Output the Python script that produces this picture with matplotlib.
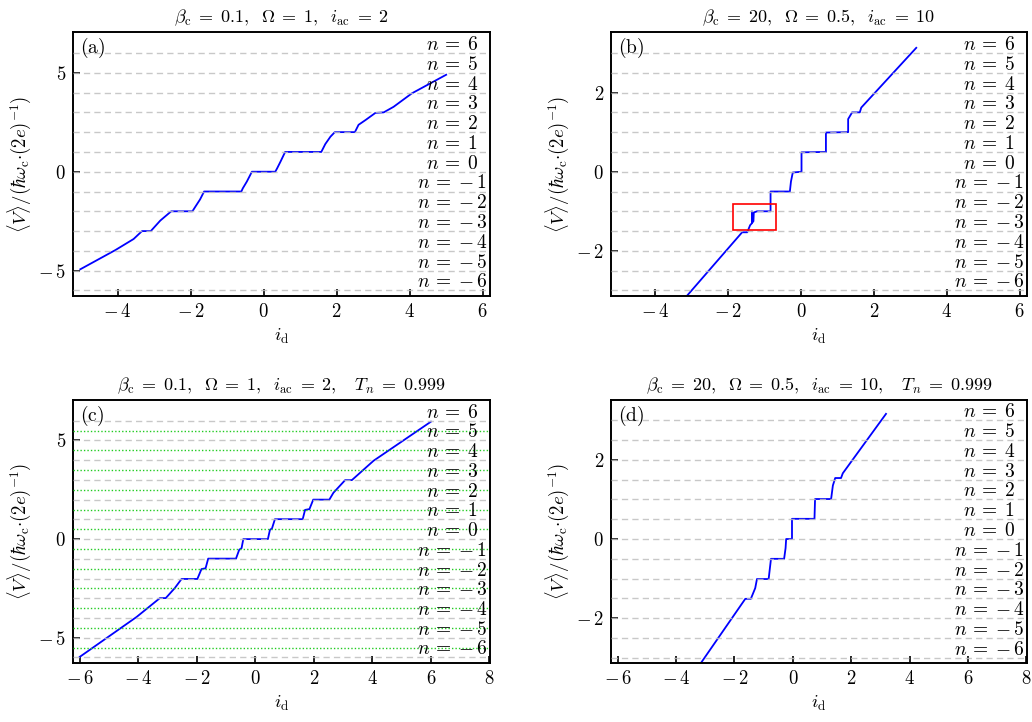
import matplotlib
matplotlib.use("Agg")
import matplotlib.pyplot as plt
from matplotlib.patches import Rectangle
import numpy as np

plt.rcParams['mathtext.fontset'] = 'cm'
plt.rcParams['font.family'] = ['DejaVu Serif']

# ---------------- data ----------------
# panel (a): beta_c = 0.1, Omega = 1, i_ac = 2
ia = [-5.02, -4.06, -3.56, -3.33, -3.09, -2.83, -2.53, -1.95, -1.87, -1.74, -1.63,
      -0.61, -0.57, -0.46, -0.32, 0.32, 0.37, 0.46, 0.59, 1.58, 1.69, 1.83, 1.95,
      2.50, 2.60, 2.79, 3.06, 3.29, 3.56, 4.06, 5.00]
Va = [-4.93, -3.96, -3.40, -3.00, -3.00, -2.47, -2.00, -2.00, -1.77, -1.40, -1.00,
      -1.00, -0.84, -0.50, 0.00, 0.00, 0.17, 0.50, 1.00, 1.00, 1.40, 1.77, 2.00,
      2.00, 2.37, 2.61, 2.97, 3.00, 3.28, 3.96, 4.90]

# panel (b): beta_c = 20, Omega = 0.5, i_ac = 10
ib = [-3.30, -1.62, -1.48, -1.40, -1.35, -1.35, -1.34, -1.31, -1.30, -1.21, -0.84,
      -0.84, -0.31, -0.28, -0.23, 0.01, 0.01, 0.68, 0.68, 1.29, 1.29, 1.40, 1.61,
      1.65, 3.16]
Vb = [-3.31, -1.53, -1.53, -1.35, -1.30, -1.00, -1.28, -1.25, -1.03, -1.00, -1.00,
      -0.50, -0.50, -0.25, -0.02, 0.00, 0.49, 0.50, 0.99, 1.00, 1.33, 1.50, 1.50,
      1.62, 3.13]

# panel (c): beta_c = 0.1, Omega = 1, i_ac = 2, T_n = 0.999
ic = [-6.00, -4.06, -3.26, -3.06, -2.75, -2.52, -1.98, -1.84, -1.70, -1.61, -0.66,
      -0.55, -0.47, -0.41, 0.43, 0.50, 0.57, 0.67, 1.62, 1.70, 1.85, 1.98, 2.53,
      2.67, 3.07, 3.30, 4.04, 6.00]
Vc = [-5.97, -3.95, -2.99, -2.99, -2.48, -2.02, -2.02, -1.52, -1.48, -0.99, -0.99,
      -0.54, -0.46, 0.00, 0.00, 0.47, 0.54, 1.01, 1.01, 1.48, 1.52, 2.00, 2.00,
      2.35, 2.99, 2.99, 3.97, 5.95]

# panel (d): beta_c = 20, Omega = 0.5, i_ac = 10, T_n = 0.999
idd = [-3.30, -1.63, -1.44, -1.29, -1.23, -0.83, -0.75, -0.30, -0.25, -0.23, -0.03,
       -0.03, 0.74, 0.76, 1.31, 1.37, 1.45, 1.65, 1.71, 3.19]
Vd = [-3.29, -1.51, -1.51, -1.24, -1.01, -1.01, -0.50, -0.50, -0.23, 0.00, 0.00,
      0.51, 0.51, 1.01, 1.01, 1.35, 1.54, 1.54, 1.66, 3.16]

n_values = list(range(6, -7, -1))
omegas = [1.0, 0.5, 1.0, 0.5]
titles = [r"$\beta_\mathrm{c}\;=\;0.1,\ \;\mathit{\Omega}\;=\;1,\ \;i_\mathrm{ac}\;=\;2$",
          r"$\beta_\mathrm{c}\;=\;20,\ \;\mathit{\Omega}\;=\;0.5,\ \;i_\mathrm{ac}\;=\;10$",
          r"$\beta_\mathrm{c}\;=\;0.1,\ \;\mathit{\Omega}\;=\;1,\ \;i_\mathrm{ac}\;=\;2,\quad T_n\;=\;0.999$",
          r"$\beta_\mathrm{c}\;=\;20,\ \;\mathit{\Omega}\;=\;0.5,\ \;i_\mathrm{ac}\;=\;10,\quad T_n\;=\;0.999$"]
letters = ["(a)", "(b)", "(c)", "(d)"]
xticks_top = [-4, -2, 0, 2, 4, 6]
xticks_bot = [-6, -4, -2, 0, 2, 4, 6, 8]
yticks_a = [-5, 0, 5]
yticks_b = [-2, 0, 2]
green_levels = [5.5, 4.5, 3.5, 2.5, 1.5, 0.5, -0.5, -1.5, -2.5, -3.5, -4.5, -5.5]
red_box = (-1.87, -1.48, 1.17, 0.665)


def num(t):
    return (r"{-}\,%g" % -t) if t < 0 else ("%g" % t)


# ---------------- figure ----------------
W, H = 1032, 722
fig = plt.figure(figsize=(W / 100, H / 100), dpi=100)

def px_axes(x0, y0, x1, y1):
    return fig.add_axes([x0 / W, 1 - y1 / H, (x1 - x0) / W, (y1 - y0) / H])

axs = [px_axes(73, 32, 490, 296), px_axes(611, 32, 1027, 296),
       px_axes(73, 400, 490, 663), px_axes(611, 400, 1027, 663)]

data = [(ia, Va), (ib, Vb), (ic, Vc), (idd, Vd)]
xlims = [(-5.22, 6.2), (-5.22, 6.2), (-6.23, 8.02), (-6.23, 8.02)]
ylims = [(-6.28, 7.06), (-3.14, 3.53), (-6.28, 7.05), (-3.13, 3.51)]
xticks = [xticks_top, xticks_top, xticks_bot, xticks_bot]
yticks = [yticks_a, yticks_b, yticks_a, yticks_b]

for k, ax in enumerate(axs):
    x, v = data[k]
    om = omegas[k]
    ax.plot(x, v, color='#0000ff', lw=1.3, zorder=2)
    for n in n_values:
        ax.axhline(n * om, color='#bfbfbf', lw=1.0, ls=(0, (4.5, 3.0)), zorder=3, alpha=0.85)
        ax.annotate(r"$n\:=\:" + num(n) + "$", xy=(0.909, n * om),
                    xycoords=('axes fraction', 'data'),
                    xytext=(0, 2.2), textcoords='offset points',
                    ha='center', va='baseline', fontsize=14, zorder=5)
    if k == 2:
        for g in green_levels:
            ax.axhline(g, color='#22cc22', lw=1.0, ls=(0, (1, 1.5)), zorder=3)
    if k == 1:
        ax.add_patch(Rectangle(red_box[:2], red_box[2], red_box[3], fill=False,
                               edgecolor='#ff0000', lw=1.2, zorder=4))
    ax.set_xlim(*xlims[k])
    ax.set_ylim(*ylims[k])
    ax.set_xticks(xticks[k])
    ax.set_xticklabels(["$" + num(t) + "$" for t in xticks[k]])
    ax.set_yticks(yticks[k])
    ax.set_yticklabels(["$" + num(t) + "$" for t in yticks[k]])
    ax.tick_params(direction='in', length=5, width=1.2, labelsize=13.5, pad=5)
    for s in ax.spines.values():
        s.set_linewidth(1.4)
    ax.set_title(titles[k], fontsize=13, pad=7)
    ax.set_xlabel(r"$i_\mathrm{d}$", fontsize=13.5, labelpad=4)
    ax.set_ylabel(r"$\langle V\rangle/(\hbar\omega_\mathrm{c}{\cdot}(2e)^{-1})$",
                  fontsize=13.5, labelpad=4)
    ax.text(0.017, 0.985, r"$\mathrm{" + letters[k] + "}$", transform=ax.transAxes,
            ha='left', va='top', fontsize=14)

fig.savefig("out.png", dpi=100)
